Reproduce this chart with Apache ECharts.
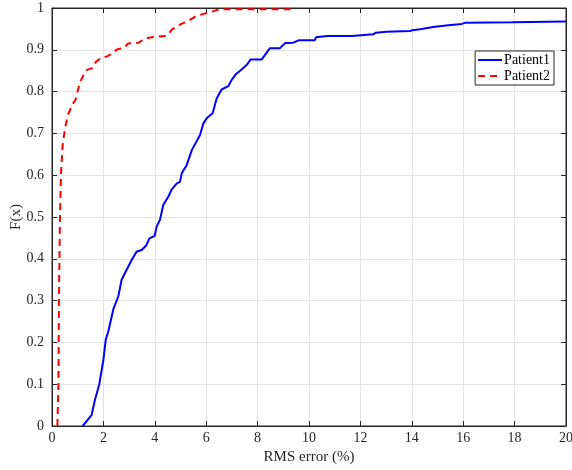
<!DOCTYPE html>
<html>
<head>
<meta charset="utf-8">
<script src="https://cdn.jsdelivr.net/npm/echarts@6/dist/echarts.min.js"></script>
<style>html,body{margin:0;padding:0;background:#fff}#c{width:572px;height:470px}</style>
</head>
<body>
<div id="c"></div>
<script>
var seriesNames = ['Patient1', 'Patient2'];
var xTicks = [0, 2, 4, 6, 8, 10, 12, 14, 16, 18, 20];
var yTicks = [0, 0.1, 0.2, 0.3, 0.4, 0.5, 0.6, 0.7, 0.8, 0.9, 1];
var patient1X = [1.19,1.54,1.67,1.84,2.0,2.09,2.19,2.39,2.58,2.71,2.93,3.1,3.29,3.49,3.68,3.79,4.0,4.07,4.2,4.33,4.53,4.66,4.85,4.98,5.05,5.24,5.44,5.76,5.89,6.02,6.25,6.41,6.6,6.86,6.99,7.16,7.38,7.58,7.73,8.16,8.29,8.48,8.87,9.07,9.39,9.62,10.23,10.27,10.71,11.66,11.72,12.5,12.6,13.02,13.93,14.02,14.32,14.38,14.9,15.42,15.94,16.1,17.89,17.95,20];
var patient1Y = [0,0.026,0.062,0.10,0.158,0.206,0.226,0.28,0.31,0.35,0.377,0.397,0.417,0.421,0.433,0.449,0.455,0.477,0.493,0.529,0.549,0.566,0.58,0.584,0.605,0.624,0.66,0.696,0.724,0.736,0.748,0.784,0.805,0.813,0.828,0.842,0.853,0.864,0.877,0.877,0.888,0.904,0.904,0.916,0.917,0.923,0.923,0.93,0.933,0.933,0.937,0.937,0.941,0.943,0.945,0.947,0.949,0.953,0.955,0.959,0.962,0.965,0.966,0.968,0.968];
var patient2X = [0.21,0.25,0.27,0.31,0.35,0.42,0.52,0.62,0.78,0.91,1.01,1.10,1.23,1.36,1.56,1.72,1.95,2.14,2.33,2.53,2.79,2.96,3.37,3.63,3.96,4.41,4.54,4.67,4.86,5.03,5.24,5.56,5.89,6.21,6.41,6.6,9.39];
var patient2Y = [0,0.10,0.30,0.50,0.605,0.676,0.716,0.744,0.768,0.78,0.804,0.824,0.84,0.852,0.856,0.872,0.882,0.884,0.891,0.901,0.904,0.915,0.917,0.927,0.931,0.933,0.939,0.949,0.955,0.962,0.967,0.979,0.986,0.991,0.995,0.997,0.997];

function pairs(xs, ys){ return xs.map(function(x,i){ return [x, ys[i]]; }); }

var FONT = 'Liberation Serif';
var TXT = '#262626';
var chart = echarts.init(document.getElementById('c'));
function axisLine(){ return {show:true, onZero:false, lineStyle:{color:TXT, width:1}}; }
function tick(){ return {show:true, inside:true, length:5, lineStyle:{color:TXT}}; }
chart.setOption({
  animation:false,
  backgroundColor:'#fff',
  grid:{left:52, top:8, width:514, height:418, containLabel:false, outerBoundsMode:'none',
        show:true, borderColor:TXT, borderWidth:1, backgroundColor:'transparent'},
  legend:{
    orient:'vertical', right:18, top:51,
    data:seriesNames,
    backgroundColor:'#fff', borderColor:TXT, borderWidth:1, padding:[2,4,2,2],
    itemWidth:24, itemHeight:8, itemGap:2,
    itemStyle:{opacity:0},
    textStyle:{fontFamily:FONT, fontSize:14, color:'#000', padding:[0,0,0,-3]}
  },
  xAxis:[{
    type:'value', min:xTicks[0], max:xTicks[xTicks.length-1], interval:2,
    name:'RMS error (%)', nameLocation:'middle', nameGap:24, nameMoveOverlap:false,
    nameTextStyle:{fontFamily:FONT, fontSize:15, color:TXT},
    axisLine:axisLine(), axisTick:tick(),
    axisLabel:{fontFamily:FONT, fontSize:14, color:TXT, margin:5},
    splitLine:{show:true, lineStyle:{color:'#e3e3e3', width:1}}
  },{
    type:'value', gridIndex:0, position:'top', min:xTicks[0], max:xTicks[xTicks.length-1], interval:2,
    axisLine:axisLine(), axisTick:tick(), axisLabel:{show:false}, splitLine:{show:false}
  }],
  yAxis:[{
    type:'value', min:yTicks[0], max:yTicks[yTicks.length-1], interval:0.1,
    name:'F(x)', nameLocation:'middle', nameGap:28, nameMoveOverlap:false,
    nameTextStyle:{fontFamily:FONT, fontSize:15, color:TXT},
    axisLine:axisLine(), axisTick:tick(),
    axisLabel:{fontFamily:FONT, fontSize:14, color:TXT, margin:8},
    splitLine:{show:true, lineStyle:{color:'#e3e3e3', width:1}}
  },{
    type:'value', gridIndex:0, position:'right', min:yTicks[0], max:yTicks[yTicks.length-1], interval:0.1,
    axisLine:axisLine(), axisTick:tick(), axisLabel:{show:false}, splitLine:{show:false}
  }],
  series:[{
    name:seriesNames[0], type:'line', data:pairs(patient1X, patient1Y),
    symbol:'none', showSymbol:false, color:'#0000ff',
    lineStyle:{color:'#0000ff', width:2}
  },{
    name:seriesNames[1], type:'line', data:pairs(patient2X, patient2Y),
    symbol:'none', showSymbol:false, color:'#ff0000',
    lineStyle:{color:'#ff0000', width:2, type:[7,5]}
  },{
    name:'_frame', type:'line', xAxisIndex:1, yAxisIndex:1, data:[],
    symbol:'none', silent:true
  }]
});
</script>
</body>
</html>
